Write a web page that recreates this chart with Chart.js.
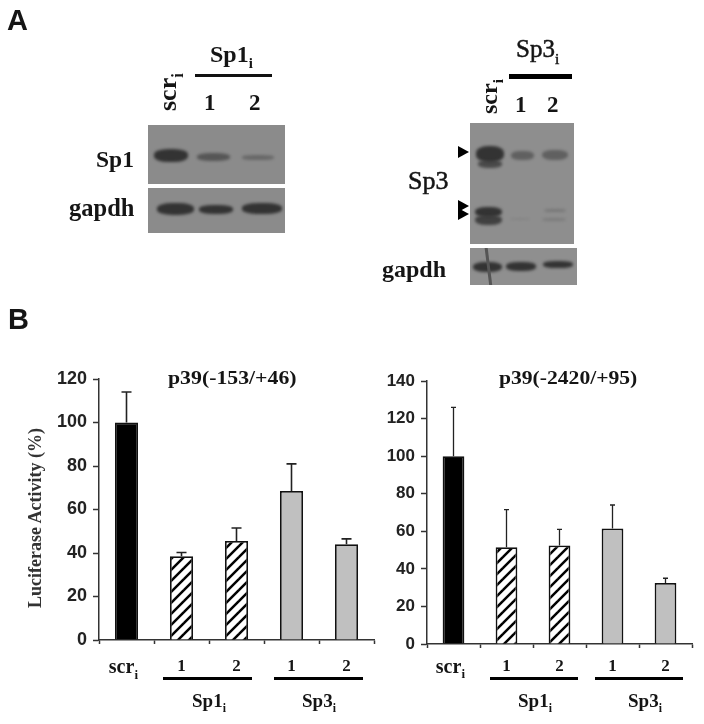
<!DOCTYPE html>
<html>
<head>
<meta charset="utf-8">
<title>Sp1 Sp3 knockdown</title>
<script src="https://cdn.jsdelivr.net/npm/chart.js@4/dist/chart.umd.min.js"></script>
<style>
  html, body { margin: 0; padding: 0; background: #fff; }
  #page { position: relative; width: 704px; height: 724px; overflow: hidden; filter: blur(0.35px); }
  #page div, #page canvas { position: absolute; }
  .t { white-space: nowrap; line-height: 1; color: #151515; transform-origin: 0 0; }
  .serif { font-family: "Liberation Serif", serif; font-weight: bold; }
  .plain { font-family: "Liberation Serif", serif; font-weight: normal; -webkit-text-stroke: 0.5px #151515; }
  .sans { font-family: "Liberation Sans", sans-serif; font-weight: bold; }
  .t span { font-size: 0.62em; position: relative; top: 0.42em; }
  .blot { background: #8b8b8b; overflow: hidden; }
  .band { background: #333; border-radius: 42%; filter: blur(1.5px); }
</style>
</head>
<body>
<div id="page"></div>
<script>
// values
const categories = ['scr', '1', '2', '1', '2'];
const leftValues = [100, 38.5, 45.5, 68.5, 44];
const leftErrTop = [114, 40.2, 51.5, 81, 46.5];
const rightValues = [100, 51.5, 52.5, 61.5, 32.5];
const rightErrTop = [126, 71.5, 61, 74, 35];
const leftTitle = 'p39(-153/+46)';
const rightTitle = 'p39(-2420/+95)';
const yAxisTitle = 'Luciferase Activity (%)';

const page = document.getElementById('page');

function box(cls, x, y, w, h, color, parent) {
    const d = document.createElement('div');
    d.className = cls;
    d.style.left = x + 'px';
    d.style.top = y + 'px';
    d.style.width = w + 'px';
    d.style.height = h + 'px';
    if (color) d.style.background = color;
    (parent || page).appendChild(d);
    return d;
}

// x is the left edge, base the text baseline
function label(html, x, base, size, cls, stretch) {
    const d = document.createElement('div');
    d.className = 't ' + (cls || 'serif');
    d.innerHTML = html;
    d.style.left = x + 'px';
    d.style.top = (base - size * 0.84) + 'px';
    d.style.fontSize = size + 'px';
    if (stretch) d.style.transform = 'scaleX(' + stretch + ')';
    page.appendChild(d);
    return d;
}

function rotatedLabel(html, x, bottom, size) {
    const d = label(html, x, bottom, size, 'serif');
    d.style.top = bottom + 'px';
    d.style.transform = 'rotate(-90deg)';
    return d;
}

function arrow(x, y) {
    const d = box('', x, y - 6, 11, 12, '#000');
    d.style.clipPath = 'polygon(0 0, 100% 50%, 0 100%)';
}

function bands(panel, list) {
    list.forEach(b => {
        const d = box('band', b[0], b[1], b[2], b[3], null, panel);
        if (b[4]) d.style.opacity = b[4];
    });
}

// panel A
label('A', 7, 30, 29, 'sans');
label('B', 8, 329, 29, 'sans');

label('Sp1<span>i</span>', 210, 62, 24);
box('', 195, 73.5, 77, 3, '#111');
rotatedLabel('scr<span>i</span>', 155, 111, 26);
label('1', 204, 110, 23);
label('2', 249, 110, 23);
label('Sp1', 96, 168, 23.5);
label('gapdh', 69, 217, 24.5);

const sp1Panel = box('blot', 148, 125, 137, 59);
bands(sp1Panel, [[6, 24, 34, 13], [49, 28, 33, 8, 0.6], [94, 30, 32, 5, 0.4]]);
const gapdh1Panel = box('blot', 148, 188, 137, 45);
bands(gapdh1Panel, [[9, 15, 37, 12], [51, 17, 34, 9], [94, 15, 40, 11]]);

label('Sp3<span>i</span>', 516, 57, 25, 'plain');
box('', 509, 73.5, 63, 5, '#000');
rotatedLabel('scr<span>i</span>', 477, 114, 24);
label('1', 515, 112, 23);
label('2', 547, 112, 23);
label('Sp3', 408, 190, 26, 'plain');
label('gapdh', 382, 277, 24);

const sp3Panel = box('blot', 470, 123, 104, 121);
sp3Panel.style.background = '#8e8e8e';
bands(sp3Panel, [
    [6, 23, 28, 16], [8, 37, 24, 8, 0.75],
    [41, 28, 23, 9, 0.5], [72, 27, 26, 10, 0.5],
    [5, 84, 27, 10], [5, 92, 27, 10, 0.85],
    [74, 86, 22, 3, 0.25], [72, 95, 24, 3, 0.2], [40, 95, 20, 2, 0.1]
]);
const gapdh3Panel = box('blot', 470, 248, 107, 37);
gapdh3Panel.style.background = '#8f8f8f';
bands(gapdh3Panel, [[3, 14, 29, 10], [36, 14, 30, 9], [73, 13, 30, 7]]);
const scratch = box('', 17, -4, 2.5, 46, '#555', gapdh3Panel);
scratch.style.transform = 'rotate(-7deg)';

arrow(458, 152);
arrow(458, 206);
arrow(458, 214);

// panel B text
label(leftTitle, 168, 384, 18, 'serif', 1.21);
label(rightTitle, 499, 384, 18, 'serif', 1.2);
rotatedLabel(yAxisTitle, 26, 608, 18).style.color = '#333';

label('Sp1<span>i</span>', 192, 707, 19);
label('Sp3<span>i</span>', 302, 707, 19);
label('Sp1<span>i</span>', 518, 707, 19);
label('Sp3<span>i</span>', 628, 707, 19);
box('', 163, 676.5, 89, 3, '#000');
box('', 274, 676.5, 89, 3, '#000');
box('', 490, 676.5, 88, 3, '#000');
box('', 595, 676.5, 88, 3, '#000');

function hatchPattern() {
    const c = document.createElement('canvas');
    c.width = 11;
    c.height = 11;
    const g = c.getContext('2d');
    g.fillStyle = '#fff';
    g.fillRect(0, 0, 11, 11);
    g.strokeStyle = '#000';
    g.lineWidth = 2.5;
    [[-1, 12, 12, -1], [-6, 6, 6, -6], [5, 17, 17, 5]].forEach(l => {
        g.beginPath();
        g.moveTo(l[0], l[1]);
        g.lineTo(l[2], l[3]);
        g.stroke();
    });
    return g.createPattern(c, 'repeat');
}

function addCanvas(x, y, w, h) {
    const c = document.createElement('canvas');
    c.style.left = x + 'px';
    c.style.top = y + 'px';
    c.width = w;
    c.height = h;
    page.appendChild(c);
    return c;
}

function makeChart(o) {
    const hatch = hatchPattern();
    const errorBars = {
        id: 'errorBars',
        afterDatasetsDraw(chart) {
            const g = chart.ctx;
            const y = chart.scales.y;
            const meta = chart.getDatasetMeta(0);
            g.save();
            g.strokeStyle = '#222';
            g.lineWidth = o.errWidth;
            meta.data.forEach((bar, i) => {
                const top = y.getPixelForValue(o.errTop[i]);
                g.beginPath();
                g.moveTo(bar.x, y.getPixelForValue(o.values[i]));
                g.lineTo(bar.x, top);
                g.moveTo(bar.x - o.capHalf, top);
                g.lineTo(bar.x + o.capHalf, top);
                g.stroke();
            });
            g.restore();
        }
    };
    const subscript = {
        id: 'subscript',
        afterDraw(chart) {
            const g = chart.ctx;
            g.save();
            g.fillStyle = '#151515';
            g.font = 'bold 13px "Liberation Serif"';
            g.fillText('i', chart.scales.x.getPixelForTick(0) + o.subDx, o.subY);
            g.restore();
        }
    };
    return new Chart(addCanvas(o.x, o.y, o.w, o.h), {
        type: 'bar',
        data: {
            labels: categories,
            datasets: [{
                data: o.values,
                backgroundColor: ['#000', hatch, hatch, '#c0c0c0', '#c0c0c0'],
                borderColor: '#111',
                borderWidth: 1.8,
                categoryPercentage: 1,
                barPercentage: o.barPct
            }]
        },
        options: {
            responsive: false,
            animation: false,
            events: [],
            layout: { padding: { top: o.padTop, right: o.padRight, left: 0, bottom: 0 } },
            plugins: { legend: { display: false }, tooltip: { enabled: false } },
            scales: {
                x: {
                    offset: true,
                    afterFit(s) { s.height = o.xHeight; },
                    grid: { offset: true, drawOnChartArea: false, tickLength: 4, tickColor: '#333', tickWidth: 1.5 },
                    border: { color: '#333', width: 1.5 },
                    ticks: {
                        color: '#151515',
                        padding: o.xPad,
                        maxRotation: 0,
                        // trailing spaces leave room for the subscript
                        callback(v, i) { return i === 0 ? categories[i] + '  ' : categories[i]; },
                        font: ctx => ctx.index === 0
                            ? { family: 'Liberation Serif', weight: 'bold', size: 20 }
                            : { family: 'Liberation Serif', weight: 'bold', size: 17 }
                    }
                },
                y: {
                    min: 0,
                    max: o.yMax,
                    afterFit(s) { s.width = o.yWidth; },
                    grid: { drawOnChartArea: false, tickLength: 6, tickColor: '#333', tickWidth: 1.5 },
                    border: { color: '#333', width: 1.5 },
                    ticks: {
                        stepSize: 20,
                        color: '#222',
                        padding: 6,
                        font: { family: 'Liberation Sans', weight: 'bold', size: o.tickSize }
                    }
                }
            }
        },
        plugins: [errorBars, subscript]
    });
}

makeChart({
    x: 40, y: 360, w: 336, h: 340,
    values: leftValues, errTop: leftErrTop, yMax: 120,
    padTop: 19, padRight: 2, yWidth: 59, xHeight: 60,
    barPct: 0.42, errWidth: 1.6, capHalf: 5, tickSize: 18, xPad: 12,
    subDx: 8, subY: 319
});

makeChart({
    x: 370, y: 360, w: 324, h: 340,
    values: rightValues, errTop: rightErrTop, yMax: 140,
    padTop: 21, padRight: 2, yWidth: 57, xHeight: 56,
    barPct: 0.41, errWidth: 1.3, capHalf: 2.5, tickSize: 17, xPad: 8,
    subDx: 8, subY: 318
});
</script>
</body>
</html>
